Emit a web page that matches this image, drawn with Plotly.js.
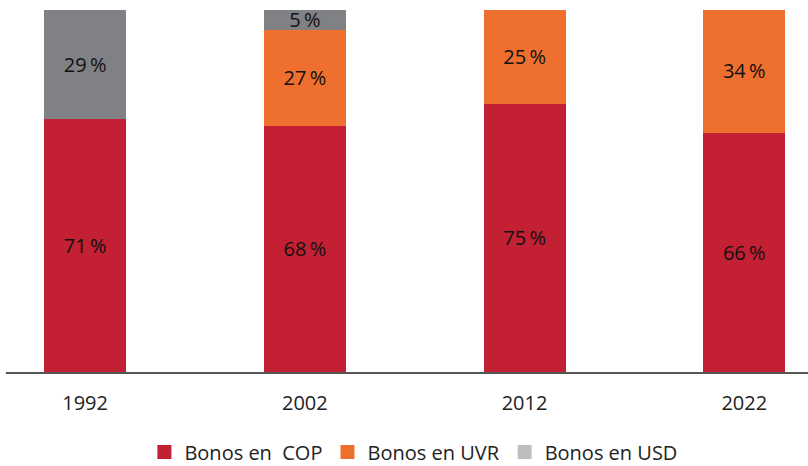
<!DOCTYPE html>
<html>
<head>
<meta charset="utf-8">
<script src="https://cdn.plot.ly/plotly-3.0.1.min.js"></script>
<style>html,body{margin:0;padding:0;background:#fff;}#chart{width:808px;height:466px;}</style>
</head>
<body>
<div id="chart"></div>
<script>
const years = ['1992', '2002', '2012', '2022'];
// segment heights (percent of total)
const cop = [69.9, 68.0, 74.1, 66.1];
const uvr = [0, 26.5, 25.9, 34.2];
const usd = [30.1, 5.5, 0, 0];
// printed labels
const copLabels = ['71\u2009%', '68\u2009%', '75\u2009%', '66\u2009%'];
const uvrLabels = ['', '27\u2009%', '25\u2009%', '34\u2009%'];
const usdLabels = ['29\u2009%', '5\u2009%', '', ''];
const seriesNames = ['Bonos en\u00A0\u00A0COP', 'Bonos en UVR', 'Bonos en USD'];
const barColors = ['#C32033', '#EE6F2E', '#808184'];
const legendColors = ['#C32033', '#EE6F2E', '#BDBEC0'];

const values = [cop, uvr, usd];
const texts = [copLabels, uvrLabels, usdLabels];
const traces = [];
values.forEach((vals, i) => {
  traces.push({
    type: 'bar', x: years, y: vals.map(v => v > 0 ? v : null),
    text: texts[i], textposition: 'inside', insidetextanchor: 'middle',
    constraintext: 'none', textangle: 0,
    textfont: {family: 'Open Sans, sans-serif', size: 20, color: '#111'},
    marker: {color: barColors[i]}, width: 0.373, showlegend: false, hoverinfo: 'skip'
  });
});
seriesNames.forEach((n, i) => {
  traces.push({
    type: 'scatter', mode: 'markers', x: [null], y: [null], name: n,
    marker: {symbol: 'square', size: 14, color: legendColors[i]}, showlegend: true
  });
});

const layout = {
  width: 808, height: 466,
  margin: {l: 6, r: 0, t: 10, b: 93.5, autoexpand: false},
  barmode: 'stack',
  paper_bgcolor: '#fff', plot_bgcolor: '#fff',
  font: {family: 'Open Sans, sans-serif', color: '#222'},
  xaxis: {
    type: 'category', range: [-0.36, 3.29], showgrid: false, zeroline: false,
    showline: true, linecolor: '#555', linewidth: 1.5, ticks: '',
    tickfont: {size: 20, color: '#222'}, ticklabelstandoff: 12, fixedrange: true
  },
  yaxis: {range: [0, 100], visible: false, showgrid: false, zeroline: false, fixedrange: true},
  legend: {
    orientation: 'h', x: 0.508, xanchor: 'center', yref: 'container', y: 0.03, yanchor: 'middle',
    font: {size: 20, color: '#222'}, itemwidth: 30, traceorder: 'normal'
  },
  showlegend: true
};
Plotly.newPlot('chart', traces, layout, {displayModeBar: false, staticPlot: true});
</script>
</body>
</html>
